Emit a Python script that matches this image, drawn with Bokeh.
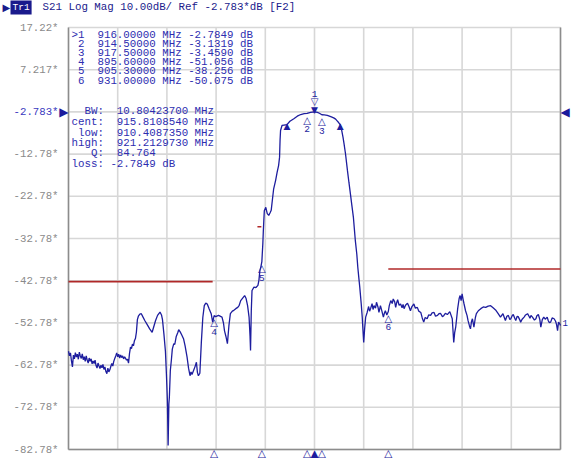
from bokeh.plotting import figure
from bokeh.models import Range1d, Label, ColumnDataSource
from bokeh.core.properties import value
from bokeh.embed import file_html
from bokeh.resources import INLINE

# ---------------- data ----------------
freq_mhz = [
    866.0, 866.2, 866.4, 866.6, 866.8, 867.0, 867.2, 867.4, 867.6, 867.8,
    868.0, 868.2, 868.4, 868.6, 868.8, 869.0, 869.2, 869.4, 869.6, 869.8,
    870.0, 870.2, 870.4, 870.6, 870.8, 871.0, 871.2, 871.4, 871.6, 871.8,
    872.0, 872.2, 872.4, 872.6, 872.8, 873.0, 873.2, 873.4, 873.6, 873.8,
    874.0, 874.2, 874.4, 874.6, 874.8, 875.0, 875.2, 875.4, 875.6, 875.8,
    876.0, 876.2, 876.4, 876.6, 876.8, 877.0, 877.2, 877.4, 877.6, 877.8,
    878.0, 878.2, 878.4, 878.6, 878.8, 879.0, 879.2, 879.4, 879.6, 879.8,
    880.0, 880.2, 880.5, 880.8, 881.1, 881.5, 882.0, 882.5, 883.0, 883.3,
    883.7, 884.1, 884.6, 884.9, 885.1, 885.4, 885.7, 885.9, 886.1, 886.25,
    886.4, 886.5, 886.7, 886.9, 887.1, 887.4, 887.6, 887.9, 888.2, 888.4,
    888.7, 889.0, 889.4, 889.7, 890.1, 890.4, 890.7, 890.9, 891.1, 891.4,
    891.7, 892.0, 892.2, 892.4, 892.7, 893.0, 893.3, 893.6, 893.9, 894.2,
    894.6, 895.0, 895.3, 895.6, 895.9, 896.5, 897.2, 897.5, 897.7, 898.0,
    898.3, 898.6, 898.9, 899.3, 899.6, 900.0, 900.4, 900.7, 901.0, 901.4,
    901.8, 902.1, 902.4, 902.7, 902.9, 903.0, 903.15, 903.3, 903.7, 904.1,
    904.5, 904.7, 904.9, 905.1, 905.3, 905.5, 905.6, 905.7, 905.8, 906.1,
    906.4, 906.7, 907.0, 907.2, 907.5, 907.7, 908.1, 908.4, 908.7, 908.9,
    909.0, 909.1, 909.4, 909.8, 910.41, 911.0, 911.8, 912.5, 913.2, 913.9,
    914.5, 915.2, 916.0, 916.6, 917.0, 917.5, 918.0, 918.6, 919.3, 919.9,
    920.3, 920.6, 920.9, 921.21, 921.5, 921.8, 922.0, 922.3, 922.7, 923.0,
    923.3, 923.6, 923.9, 924.1, 924.3, 924.6, 924.8, 925.0, 925.2, 925.5,
    925.7, 925.85, 926.0, 926.2, 926.4, 926.7, 927.0, 927.2, 927.4, 927.7,
    927.9, 928.1, 928.4, 928.6, 928.9, 929.1, 929.4, 929.7, 930.0, 930.2,
    930.4, 930.7, 931.0, 931.2, 931.5, 931.8, 932.0, 932.3, 932.5, 932.7,
    932.9, 933.2, 933.5, 933.8, 934.0, 934.2, 934.5, 934.9, 935.2, 935.5,
    935.8, 936.2, 936.5, 936.9, 937.2, 937.6, 937.9, 938.2, 938.5, 938.9,
    939.2, 939.6, 939.9, 940.3, 940.6, 941.0, 941.3, 941.6, 942.0, 942.3,
    942.6, 943.0, 943.5, 944.0, 944.3, 944.5, 944.7, 945.1, 945.4, 945.6,
    945.8, 946.0, 946.2, 946.4, 946.7, 947.0, 947.2, 947.5, 947.7, 947.9,
    948.1, 948.4, 948.7, 948.9, 949.3, 949.8, 950.3, 950.8, 951.3, 951.8,
    952.3, 952.8, 953.3, 953.8, 954.3, 954.8, 955.1, 955.4, 955.7, 955.9,
    956.2, 956.4, 956.7, 956.9, 957.2, 957.4, 957.7, 957.9, 958.2, 958.6,
    958.9, 959.3, 959.6, 959.8, 960.0, 960.3, 960.7, 961.0, 961.2, 961.5,
    961.8, 962.0, 962.3, 962.6, 962.9, 963.3, 963.5, 963.7, 964.0, 964.3,
    964.7, 965.0, 965.2, 965.4, 965.6, 965.8, 966.0,
]
s21_db = [
    -59.5, -60.6, -59.9, -61.8, -63.2, -60.4, -61.3, -59.8, -60.9, -60.2,
    -61.4, -59.7, -60.6, -61.2, -60.1, -61.5, -60.8, -61.9, -60.6, -61.6,
    -62.3, -61.1, -61.9, -61.3, -62.5, -61.8, -62.4, -61.6, -62.9, -63.5,
    -62.3, -63.0, -63.6, -62.8, -63.4, -62.6, -63.8, -63.2, -64.3, -64.8,
    -63.5, -64.4, -63.9, -63.1, -62.4, -63.0, -61.9, -61.2, -60.6, -59.9,
    -60.8, -60.2, -61.1, -60.4, -61.0, -60.6, -61.3, -60.8, -61.2, -61.6,
    -61.4, -62.3, -60.0, -58.5, -58.9, -57.8, -58.2, -57.0, -56.5, -55.0,
    -52.0, -51.2, -50.7, -50.6, -51.3, -52.2, -53.2, -54.2, -55.0, -53.8,
    -52.2, -51.0, -50.2, -50.9, -52.0, -55.5, -59.5, -64.9, -71.2, -81.8,
    -72.0, -70.4, -64.0, -61.7, -59.0, -57.7, -57.9, -56.0, -55.1, -54.4,
    -54.9, -55.6, -56.6, -58.2, -60.9, -63.5, -65.3, -64.4, -65.0, -64.1,
    -63.2, -62.1, -64.5, -65.3, -64.7, -57.4, -51.5, -48.7, -48.1, -48.3,
    -49.5, -50.6, -52.6, -51.056, -51.3, -51.0, -51.4, -52.8, -54.6, -56.0,
    -57.7, -53.5, -50.6, -50.0, -49.8, -49.4, -49.1, -48.6, -47.5, -46.9,
    -46.3, -47.0, -48.7, -51.4, -56.0, -59.3, -50.0, -45.1, -44.3, -44.4,
    -43.9, -42.7, -40.4, -39.5, -38.256, -34.0, -31.0, -28.5, -26.2, -25.4,
    -26.9, -27.3, -26.6, -26.1, -23.0, -21.0, -19.0, -17.1, -15.5, -13.5,
    -9.5, -7.2, -6.0, -5.9, -5.78, -5.0, -4.4, -3.8, -3.4, -3.2,
    -3.1319, -2.9, -2.7849, -2.9, -3.1, -3.459, -3.5, -3.6, -3.9, -4.2,
    -4.5, -4.9, -5.3, -5.78, -7.0, -8.8, -10.3, -12.7, -16.7, -19.5,
    -22.2, -25.0, -27.7, -30.5, -33.3, -36.5, -39.6, -42.0, -44.3, -48.3,
    -51.4, -54.5, -57.4, -54.0, -51.4, -50.3, -48.9, -50.0, -49.4, -48.2,
    -49.6, -48.7, -49.3, -47.9, -49.0, -50.3, -48.7, -50.0, -51.4, -50.5,
    -49.9, -50.9, -50.075, -48.7, -47.5, -48.2, -47.1, -47.8, -49.1, -48.0,
    -47.3, -48.6, -48.3, -49.2, -48.4, -49.4, -48.6, -48.1, -48.9, -49.9,
    -48.9, -48.3, -49.3, -49.1, -50.0, -50.3, -51.6, -52.6, -51.5, -51.8,
    -50.9, -51.0, -50.4, -50.3, -51.2, -51.0, -50.6, -50.5, -51.3, -51.0,
    -50.5, -50.8, -50.1, -51.8, -57.4, -55.0, -53.8, -49.4, -47.0, -46.3,
    -47.5, -45.9, -47.2, -48.3, -49.9, -51.0, -52.2, -53.5, -54.2, -52.5,
    -51.8, -53.8, -51.5, -50.6, -49.9, -49.4, -49.0, -49.1, -48.8, -48.7,
    -49.2, -49.7, -50.5, -51.4, -50.6, -52.2, -51.2, -51.0, -52.0, -51.8,
    -51.0, -50.8, -51.7, -52.2, -51.2, -51.3, -52.0, -52.6, -51.9, -51.4,
    -50.9, -50.6, -51.2, -51.7, -51.0, -51.4, -52.1, -51.8, -51.1, -50.8,
    -52.0, -53.8, -52.0, -51.4, -51.9, -51.4, -52.2, -52.7, -52.6, -51.6,
    -51.8, -52.4, -53.2, -54.6, -52.6, -52.9, -53.4,
]

marker_id = [1, 2, 3, 4, 5, 6]
marker_freq = [916.0, 914.5, 917.5, 895.6, 905.3, 931.0]
marker_db = [-2.7849, -3.1319, -3.4590, -51.056, -38.256, -50.075]

bw_width = 10.80423700
bw_center = 915.8108540
bw_low = 910.4087350
bw_high = 921.2129730
bw_q = 84.764
bw_loss = -2.7849
bw_drop = 3.0

lim_start = [866.0, 931.0, 904.4]
lim_stop = [895.3, 966.0, 905.2]
lim_db = [-43.0, -40.0, -30.0]

y_ticks = [17.22, 7.217, -2.783, -12.78, -22.78, -32.78, -42.78, -52.78, -62.78, -72.78, -82.78]
y_tick_labels = ["17.22*", "7.217*", "-2.783*", "-12.78*", "-22.78*", "-32.78*",
                 "-42.78*", "-52.78*", "-62.78*", "-72.78*", "-82.78*"]
x_ticks = [866, 876, 886, 896, 906, 916, 926, 936, 946, 956, 966]
ref_db = -2.783
trace_name = "Tr1"
header_text = "S21 Log Mag 10.00dB/ Ref -2.783*dB [F2]"

# ---------------- style ----------------
F0, F1 = 866.0, 966.0          # stimulus span (frame edges)
D0, D1 = -82.78, 17.22         # response span (frame edges)
TRACE = "#1d1d9e"
BLUE_TXT = "#2d2db0"
GRAY_TXT = "#8a8a8a"
GRID = "#d7d7d7"
FRAME = "#8c8c8c"
MONO = "Liberation Mono"
SYM = "DejaVu Sans"
NB = "\u00A0"

# screen pixel -> data coordinate (frame spans x 68..560, y 27..449)
def fx(X):
    return F0 + (X - 68.0) * (F1 - F0) / 492.0

def dy(Y):
    return D1 - (Y - 27.0) * (D1 - D0) / 422.0

p = figure(width=573, height=458, output_backend="svg", toolbar_location=None,
           x_range=Range1d(fx(0), fx(573)), y_range=Range1d(dy(458), dy(0)),
           x_axis_location=None, y_axis_location=None, min_border=0,
           background_fill_color="white", border_fill_color="white",
           outline_line_color=None)
for g in p.grid:
    g.visible = False

# grid
p.segment(x0=x_ticks, x1=x_ticks, y0=[D0] * len(x_ticks), y1=[D1] * len(x_ticks),
          line_color=GRID, line_width=1.6)
p.segment(x0=[F0] * len(y_ticks), x1=[F1] * len(y_ticks), y0=y_ticks, y1=y_ticks,
          line_color=GRID, line_width=1.6)
# frame (left, right, bottom)
p.segment(x0=[F0, F1, F0], x1=[F0, F1, F1], y0=[D0, D0, D0], y1=[D1, D1, D0],
          line_color=FRAME, line_width=1.5)

# y tick labels
tick_colors = ["#3a3ac0" if t == ref_db else GRAY_TXT for t in y_ticks]
p.text(x=[F0] * len(y_ticks), y=y_ticks, text=y_tick_labels, x_offset=-10,
       text_font=value(MONO), text_font_size="10.7px", text_color=tick_colors,
       text_align="right", text_baseline="middle")

# limit lines
p.segment(x0=lim_start, x1=lim_stop, y0=lim_db, y1=lim_db, line_color="#b02828", line_width=1.6)

# trace
p.line(freq_mhz, s21_db, line_color=TRACE, line_width=1.3)

# markers on the trace
act = ColumnDataSource(dict(x=[marker_freq[0]], y=[marker_db[0]], n=[str(marker_id[0])]))
p.text(x="x", y="y", text=value("\u25BC"), source=act, text_font=value(SYM), text_font_size="9px",
       text_color=TRACE, text_align="center", text_baseline="middle", y_offset=-2)
p.text(x="x", y="y", text=value("\u25BD"), source=act, text_font=value(SYM), text_font_size="10px",
       text_color=TRACE, text_align="center", text_baseline="middle", y_offset=-10)
p.text(x="x", y="y", text="n", source=act, text_font=value(MONO), text_font_size="9.5px",
       text_color=TRACE, text_align="center", text_baseline="middle", y_offset=-18)

others = ColumnDataSource(dict(x=marker_freq[1:], y=marker_db[1:], n=[str(i) for i in marker_id[1:]]))
p.text(x="x", y="y", text=value("\u25B3"), source=others, text_font=value(SYM), text_font_size="10px",
       text_color=TRACE, text_align="center", text_baseline="middle", y_offset=7)
p.text(x="x", y="y", text="n", source=others, text_font=value(MONO), text_font_size="9.5px",
       text_color=TRACE, text_align="center", text_baseline="middle", y_offset=16)

bw_src = ColumnDataSource(dict(x=[bw_low, bw_high], y=[bw_loss - bw_drop, bw_loss - bw_drop]))
p.text(x="x", y="y", text=value("\u25B2"), source=bw_src, text_font=value(SYM), text_font_size="9px",
       text_color=TRACE, text_align="center", text_baseline="middle", y_offset=1)

# marker position indicators below the frame
bot = ColumnDataSource(dict(x=marker_freq, y=[D0] * len(marker_freq),
                            s=["\u25B2" if i == 1 else "\u25B3" for i in marker_id]))
p.text(x="x", y="y", text="s", source=bot, text_font=value(SYM), text_font_size="10.5px",
       text_color=TRACE, text_align="center", text_baseline="middle", y_offset=3)

# ---------------- texts ----------------
def lab(X, Y, txt, color=BLUE_TXT, size="10.8px", font=MONO, align="left", **kw):
    p.add_layout(Label(x=fx(X), y=dy(Y), text=txt.replace(" ", NB), text_color=color, text_font=font,
                       text_font_size=size, text_align=align, text_baseline="middle", **kw))

# header
lab(2, 6.5, "\u25B6", color="#1a1a8c", size="10px", font=SYM)
lab(10, 6.5, trace_name, color="white", size="9.5px", background_fill_color="#1a1a8c", padding=2)
lab(42, 6.5, header_text, color="#1a1a8c")

# reference position arrows and trace label
p.add_layout(Label(x=F0, y=ref_db, text="\u25B6", text_color="#1a1a9c",
                   text_font=SYM, text_font_size="12px", text_align="right", text_baseline="middle"))
p.add_layout(Label(x=F1, y=ref_db, text="\u25C0", text_color="#1a1a9c",
                   text_font=SYM, text_font_size="12px", text_align="left", text_baseline="middle"))
p.add_layout(Label(x=F1, y=s21_db[-1], x_offset=2, y_offset=3, text="1", text_color=TRACE,
                   text_font=MONO, text_font_size="9px", text_align="left", text_baseline="middle"))

def sig5(v):
    ip = len(str(int(abs(v))))
    return f"{v:.{max(5 - ip, 0)}f}"

rows_y = [34.3, 43.3, 52.3, 61.3, 70.7, 80.0]
for k, (i, f, d) in enumerate(zip(marker_id, marker_freq, marker_db)):
    pre = ">" if k == 0 else " "
    lab(71, rows_y[k], f"{pre}{i}  {f:.5f} MHz {sig5(d)} dB")

bw_rows = [
    f"  BW:  {bw_width:.8f} MHz",
    f"cent:  {bw_center:.7f} MHz",
    f" low:  {bw_low:.7f} MHz",
    f"high:  {bw_high:.7f} MHz",
    f"   Q:  {bw_q:.3f}",
    f"loss: {bw_loss:.4f} dB",
]
bw_y = [110.7, 121.5, 132.2, 142.7, 152.8, 163.3]
for r, yy in zip(bw_rows, bw_y):
    lab(71, yy, r)

open("out.html", "w").write(file_html(p, INLINE))
